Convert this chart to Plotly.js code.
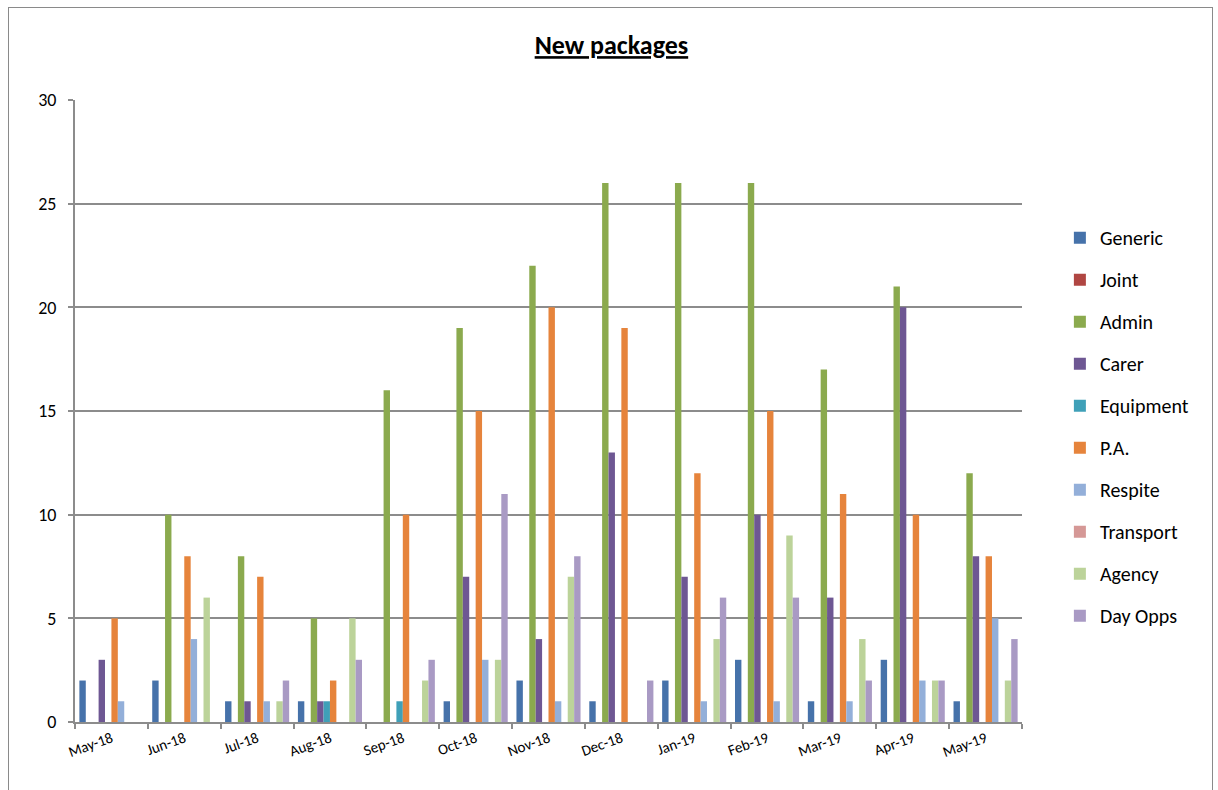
<!DOCTYPE html>
<html>
<head>
<meta charset="utf-8">
<script src="https://cdn.plot.ly/plotly-3.0.1.min.js"></script>
<style>
  html, body { margin: 0; padding: 0; background: #fff; }
  #chart { width: 1218px; height: 790px; }
  #frame { position: absolute; left: 8px; top: 7px; width: 1203px; height: 800px; border: 1px solid #8a8a8a; pointer-events: none; }
</style>
</head>
<body>
<div id="chart"></div>
<div id="frame"></div>
<script>
const months = ['May-18','Jun-18','Jul-18','Aug-18','Sep-18','Oct-18','Nov-18','Dec-18','Jan-19','Feb-19','Mar-19','Apr-19','May-19'];

const generic   = [2, 2, 1, 1, 0, 1, 2, 1, 2, 3, 1, 3, 1];
const joint     = [0, 0, 0, 0, 0, 0, 0, 0, 0, 0, 0, 0, 0];
const admin     = [0, 10, 8, 5, 16, 19, 22, 26, 26, 26, 17, 21, 12];
const carer     = [3, 0, 1, 1, 0, 7, 4, 13, 7, 10, 6, 20, 8];
const equipment = [0, 0, 0, 1, 1, 0, 0, 0, 0, 0, 0, 0, 0];
const pa        = [5, 8, 7, 2, 10, 15, 20, 19, 12, 15, 11, 10, 8];
const respite   = [1, 4, 1, 0, 0, 3, 1, 0, 1, 1, 1, 2, 5];
const transport = [0, 0, 0, 0, 0, 0, 0, 0, 0, 0, 0, 0, 0];
const agency    = [0, 6, 1, 5, 2, 3, 7, 0, 4, 9, 4, 2, 2];
const dayOpps   = [0, 0, 2, 3, 3, 11, 8, 2, 6, 6, 2, 2, 4];

const seriesNames = ['Generic','Joint','Admin','Carer','Equipment','P.A.','Respite','Transport','Agency','Day Opps'];
const seriesData  = [generic, joint, admin, carer, equipment, pa, respite, transport, agency, dayOpps];
const colors      = ['#4672AA','#B04642','#8BAA4E','#6E5793','#3FA0B8','#E6843C','#93AFD9','#D59896','#BCD39A','#A99AC4'];

const yTicks = [0, 5, 10, 15, 20, 25, 30];

const fontFam = 'Carlito, Lato, "Open Sans", sans-serif';

const traces = seriesNames.map((name, i) => ({
  type: 'bar',
  name: name,
  x: months,
  y: seriesData[i],
  legendgroup: 'g' + i,
  marker: { color: colors[i], line: { width: 0 } },
  hoverinfo: 'x+y+name'
}));

const layout = {
  width: 1218,
  height: 790,
  paper_bgcolor: '#ffffff',
  plot_bgcolor: '#ffffff',
  font: { family: fontFam, color: '#000' },
  title: {
    text: '<b><u>New packages</u></b>',
    font: { family: fontFam, size: 26, color: '#000' },
    x: 0.502, xanchor: 'center',
    y: 0.943, yanchor: 'middle'
  },
  margin: { l: 75, r: 196, t: 100, b: 68 },
  barmode: 'group',
  bargap: 0.12,
  bargroupgap: 0,
  showlegend: true,
  legend: {
    x: 1.04, xanchor: 'left',
    y: 0.81, yanchor: 'top',
    font: { family: fontFam, size: 20, color: '#000' },
    tracegroupgap: 13,
    itemwidth: 30,
    bgcolor: 'rgba(0,0,0,0)'
  },
  xaxis: {
    type: 'category',
    tickangle: -20,
    tickfont: { family: fontFam, size: 15, color: '#000' },
    showline: true,
    linecolor: '#8c8c8c',
    linewidth: 2,
    ticks: 'outside',
    tickson: 'boundaries',
    ticklen: 5,
    tickcolor: '#8c8c8c',
    tickwidth: 1.5,
    showgrid: false,
    zeroline: false
  },
  yaxis: {
    range: [0, 30],
    tickvals: yTicks,
    ticktext: yTicks.map(String),
    tickfont: { family: fontFam, size: 18, color: '#000' },
    ticklabelstandoff: 8,
    showline: true,
    linecolor: '#8c8c8c',
    linewidth: 2,
    ticks: 'outside',
    ticklen: 5,
    tickcolor: '#8c8c8c',
    tickwidth: 1.5,
    showgrid: true,
    gridcolor: '#8c8c8c',
    gridwidth: 2,
    zeroline: false
  }
};

Plotly.newPlot('chart', traces, layout, { displayModeBar: false });
</script>
</body>
</html>
